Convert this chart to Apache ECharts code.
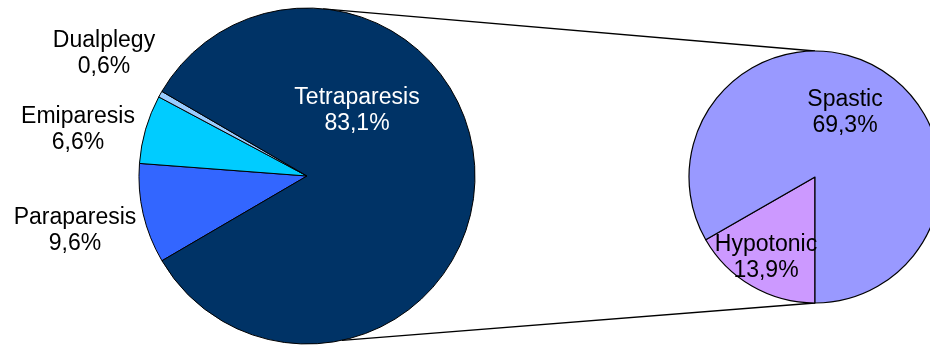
<!DOCTYPE html>
<html>
<head>
<meta charset="utf-8">
<script src="https://cdn.jsdelivr.net/npm/echarts@6/dist/echarts.min.js"></script>
<style>
html,body{margin:0;padding:0;background:#fff;}
#chart{width:930px;height:345px;}
</style>
</head>
<body>
<div id="chart"></div>
<script>
// ---- data ----
const mainNames = ['Paraparesis', 'Emiparesis', 'Dualplegy', 'Tetraparesis'];
const mainValues = [9.6, 6.6, 0.6, 83.1];
const mainColors = ['#3366FF', '#00CCFF', '#99CCFF', '#003366'];

const subNames = ['Hypotonic', 'Spastic'];
const subValues = [13.9, 69.3];
const subColors = ['#CC99FF', '#9999FF'];

// ---- layout (styles) ----
const leftCenter = [307, 176], leftR = 168;
const rightCenter = [815, 177], rightR = 126;
const mainLabelPos = [[75, 231], [78, 130], [104, 54], [357, 111]];
const mainLabelColor = ['#000', '#000', '#000', '#fff'];
const subLabelPos = [[766, 258], [845, 113]];
const fontFamily = '"Liberation Sans", Arial, sans-serif';

function fmt(p) {
  return p.name + '\n' + p.value.toFixed(1).replace('.', ',') + '%';
}
function pt(c, r, deg) {
  const a = deg * Math.PI / 180;
  return [c[0] + r * Math.cos(a), c[1] - r * Math.sin(a)];
}

const chart = echarts.init(document.getElementById('chart'), null, {renderer: 'canvas'});

const topA = pt(leftCenter, leftR, 84.5), topB = pt(rightCenter, rightR, 90);
const botA = pt(leftCenter, leftR, -78), botB = pt(rightCenter, rightR, -90);

chart.setOption({
  animation: false,
  backgroundColor: '#fff',
  graphic: [
    {type: 'line', z: 0, shape: {x1: topA[0], y1: topA[1], x2: topB[0], y2: topB[1]}, style: {stroke: '#000', lineWidth: 1.3}},
    {type: 'line', z: 0, shape: {x1: botA[0], y1: botA[1], x2: botB[0], y2: botB[1]}, style: {stroke: '#000', lineWidth: 1.3}}
  ],
  series: [
    {
      type: 'pie',
      center: leftCenter,
      radius: leftR,
      startAngle: 210.3,
      clockwise: true,
      avoidLabelOverlap: false,
      minAngle: 0,
      emphasis: {disabled: true},
      itemStyle: {borderColor: '#000', borderWidth: 1},
      labelLine: {show: false},
      label: {
        show: true, position: 'inside', formatter: fmt,
        fontFamily: fontFamily, fontSize: 23, lineHeight: 26, align: 'center'
      },
      labelLayout: function (p) {
        const q = mainLabelPos[p.dataIndex];
        return {x: q[0], y: q[1], align: 'center', verticalAlign: 'middle'};
      },
      data: mainNames.map((n, i) => ({
        name: n, value: mainValues[i],
        itemStyle: {color: mainColors[i]},
        label: {color: mainLabelColor[i]}
      }))
    },
    {
      type: 'pie',
      center: rightCenter,
      radius: rightR,
      startAngle: 270,
      clockwise: true,
      avoidLabelOverlap: false,
      emphasis: {disabled: true},
      itemStyle: {borderColor: '#000', borderWidth: 1.2},
      labelLine: {show: false},
      label: {
        show: true, position: 'inside', formatter: fmt, color: '#000',
        fontFamily: fontFamily, fontSize: 23, lineHeight: 26, align: 'center'
      },
      labelLayout: function (p) {
        const q = subLabelPos[p.dataIndex];
        return {x: q[0], y: q[1], align: 'center', verticalAlign: 'middle'};
      },
      data: subNames.map((n, i) => ({
        name: n, value: subValues[i],
        itemStyle: {color: subColors[i]}
      }))
    }
  ]
});
</script>
</body>
</html>
